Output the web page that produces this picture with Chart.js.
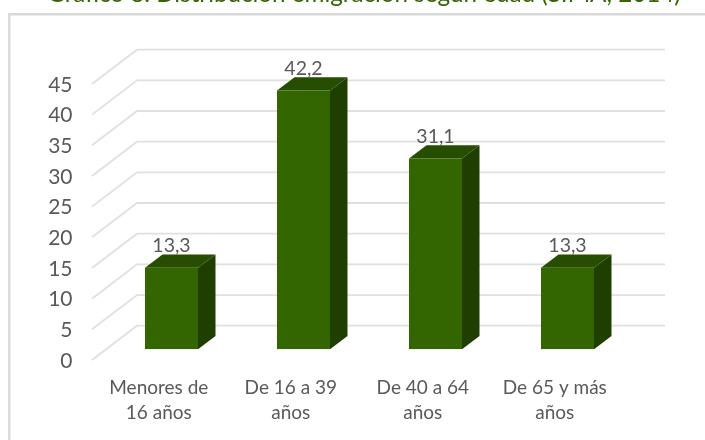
<!DOCTYPE html>
<html>
<head>
<meta charset="utf-8">
<style>html,body{margin:0;padding:0;background:#fff;overflow:hidden}#w{width:705px;height:440px;position:relative}</style>
<script src="https://cdn.jsdelivr.net/npm/chart.js@4"></script>
</head>
<body>
<div id="w"><canvas id="c" width="705" height="440"></canvas></div>
<script>
const titleText = 'Gráfico 8. Distribución emigración según edad (SIMA, 2014)';
const categories = [['Menores de','16 años'],['De 16 a 39','años'],['De 40 a 64','años'],['De 65 y más','años']];
const values = [13.3, 42.2, 31.1, 13.3];
const valueLabels = ['13,3','42,2','31,1','13,3'];
const yMax = 45;
const yStep = 5;

const FONT = 'Lato, Carlito, Calibri, sans-serif';
const backDx = 31.5, backDy = -23.6;      // back wall relative to the bar plane
const frontDx = -13.5, frontDy = 10.7;    // front floor edge relative to the bar plane
const barDx = 17.5, barDy = -13.3;        // bar depth

const scene = {
  id: 'scene',
  beforeDraw(chart) {
    const t = chart.titleBlock;
    if (!t._shifted) { t.left += 47.25; t.right += 47.25; t._shifted = true; }
    const c = chart.ctx;
    c.save();
    c.fillStyle = '#fff';
    c.fillRect(0, 0, chart.width, chart.height);
    c.strokeStyle = '#d9d9d9';
    c.lineWidth = 2.4;
    c.beginPath();
    c.moveTo(9.3, 440); c.lineTo(9.3, 14.3); c.lineTo(705, 14.3);
    c.stroke();
    c.restore();
  },
  beforeDatasetsDraw(chart) {
    const c = chart.ctx, y = chart.scales.y, a = chart.chartArea;
    c.save();
    c.strokeStyle = '#e0e0e0';
    c.lineWidth = 1.8;
    y.ticks.forEach((tk, i) => {
      const py = y.getPixelForTick(i);
      c.beginPath();
      c.moveTo(a.left + frontDx, py + frontDy);
      c.lineTo(a.left + backDx, py + backDy);
      c.lineTo(a.right + backDx, py + backDy);
      c.stroke();
    });
    // Depth faces of each bar
    chart.getDatasetMeta(0).data.forEach(b => {
      const l = b.x - b.width / 2, r = b.x + b.width / 2;
      c.fillStyle = '#264d00';
      c.beginPath();
      c.moveTo(l, b.y); c.lineTo(l + barDx, b.y + barDy);
      c.lineTo(r + barDx, b.y + barDy); c.lineTo(r, b.y);
      c.closePath(); c.fill();
      c.fillStyle = '#1f3f00';
      c.beginPath();
      c.moveTo(r, b.y); c.lineTo(r + barDx, b.y + barDy);
      c.lineTo(r + barDx, b.base + barDy); c.lineTo(r, b.base);
      c.closePath(); c.fill();
    });
    c.restore();
  },
  afterDatasetsDraw(chart) {
    const c = chart.ctx;
    c.save();
    c.fillStyle = '#595959';
    c.font = '19.5px ' + FONT;
    c.textAlign = 'center';
    c.textBaseline = 'middle';
    chart.getDatasetMeta(0).data.forEach((b, i) => {
      c.fillText(valueLabels[i], b.x, b.y - 22);
    });
    c.restore();
  }
};

new Chart(document.getElementById('c'), {
  type: 'bar',
  data: {
    labels: categories,
    datasets: [{
      data: values,
      backgroundColor: '#336600',
      borderWidth: 0,
      barPercentage: 53 / 132,
      categoryPercentage: 1
    }]
  },
  plugins: [scene],
  options: {
    responsive: false,
    animation: false,
    layout: { padding: { left: 0, right: 71.5, top: 0, bottom: 0 } },
    plugins: {
      legend: { display: false },
      tooltip: { enabled: false },
      title: {
        display: true,
        text: titleText,
        color: '#336600',
        font: { family: FONT, size: 24.4, weight: 'normal', lineHeight: 1.2 },
        padding: { top: -20.6, bottom: 64.6 }
      }
    },
    scales: {
      x: {
        afterFit(s) { s.height = 90.7; },
        grid: { display: false, drawTicks: false },
        border: { display: false },
        ticks: {
          autoSkip: false, maxRotation: 0, minRotation: 0,
          padding: 26.5, labelOffset: -12.7,
          color: '#595959',
          font: { family: FONT, size: 19, lineHeight: '25px' }
        }
      },
      y: {
        min: 0, max: yMax,
        afterFit(s) { s.width = 105.5; },
        grid: { display: false, drawTicks: false },
        border: { display: false },
        ticks: {
          stepSize: yStep,
          padding: 33, labelOffset: 11.5,
          color: '#595959',
          font: { family: FONT, size: 21 }
        }
      }
    }
  }
});
</script>
</body>
</html>
